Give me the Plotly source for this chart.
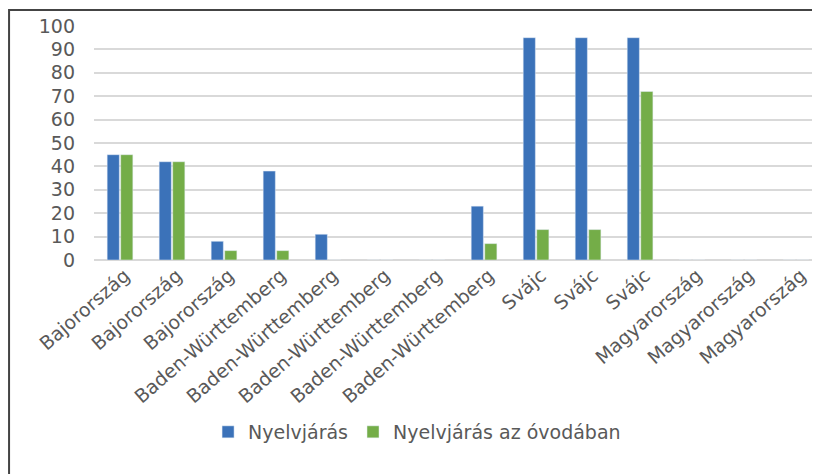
import plotly.graph_objects as go

categories = ["Bajorország", "Bajorország", "Bajorország",
              "Baden-Württemberg", "Baden-Württemberg", "Baden-Württemberg",
              "Baden-Württemberg", "Baden-Württemberg",
              "Svájc", "Svájc", "Svájc",
              "Magyarország", "Magyarország", "Magyarország"]
nyelvjaras = [45, 42, 8, 38, 11, 0, 0, 23, 95, 95, 95, 0, 0, 0]
ovoda = [45, 42, 4, 4, 0, 0, 0, 7, 13, 13, 72, 0, 0, 0]
y_ticks = [0, 10, 20, 30, 40, 50, 60, 70, 80, 90, 100]

x = list(range(len(categories)))
font = "DejaVu Sans"
gray = "#595959"

fig = go.Figure()
fig.add_trace(go.Bar(x=x, y=nyelvjaras, name="Nyelvjárás", marker_color="#3b72b9"))
fig.add_trace(go.Bar(x=x, y=ovoda, name="Nyelvjárás az óvodában", marker_color="#74ad48"))

fig.update_layout(
    width=812, height=466,
    margin=dict(l=86, r=0, t=18, b=214),
    paper_bgcolor="white", plot_bgcolor="white",
    barmode="group", bargap=0.48, bargroupgap=0.1,
    font=dict(family=font, color=gray, size=19),
    legend=dict(orientation="h", x=0.445, xanchor="center", y=-0.735, yanchor="middle",
                font=dict(size=19, color=gray), itemwidth=30),
    shapes=[dict(type="rect", xref="paper", yref="paper", x0=-0.117, y0=-1.2,
                 x1=1.2, y1=1.068, line=dict(color="#444444", width=2))],
)
fig.update_xaxes(tickmode="array", tickvals=x, ticktext=categories, tickangle=-41,
                 range=[-0.5, 13.46], showgrid=False, ticks="", showline=False,
                 automargin=False, ticklabelshift=5,
                 tickfont=dict(size=19, color=gray))
fig.update_yaxes(range=[0, 100], tickvals=y_ticks, showgrid=True, gridcolor="#d9d9d9",
                 gridwidth=1.5, zeroline=True, zerolinecolor="#d9d9d9", zerolinewidth=1.5,
                 automargin=False,
                 ticks="", tickfont=dict(size=19, color=gray), ticklabelstandoff=18)

fig.write_html("out.html")
